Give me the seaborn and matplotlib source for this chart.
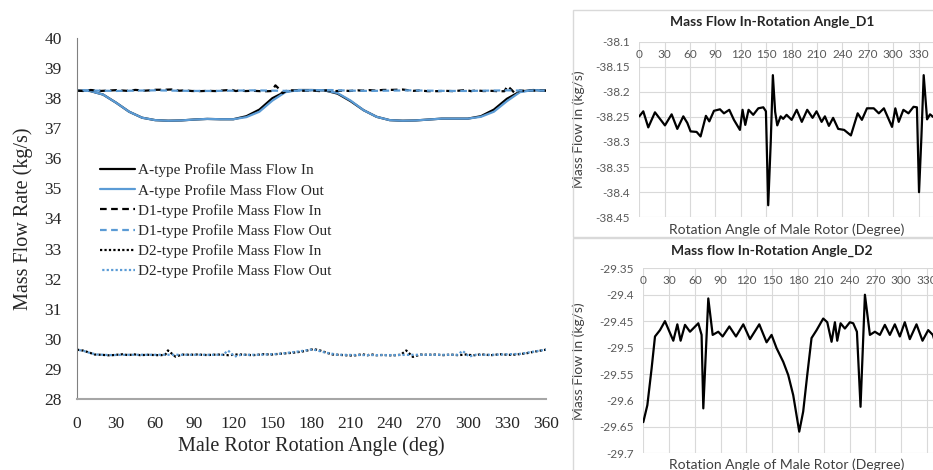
import numpy as np
import pandas as pd
import seaborn as sns
import matplotlib.pyplot as plt
from matplotlib.patches import Rectangle

# ---- main chart data (magnitudes, kg/s) ----
a_angle = list(range(0, 361, 10))
a_in = [38.25, 38.24, 38.12, 37.85, 37.55, 37.35, 37.27, 37.25, 37.26, 37.29,
        37.31, 37.30, 37.30, 37.40, 37.62, 38.00, 38.22, 38.27, 38.27, 38.26,
        38.15, 37.90, 37.60, 37.38, 37.27, 37.25, 37.26, 37.29, 37.32, 37.32,
        37.32, 37.40, 37.62, 37.98, 38.22, 38.27, 38.25]
a_out = [38.25, 38.24, 38.12, 37.85, 37.55, 37.35, 37.27, 37.25, 37.26, 37.29,
         37.31, 37.30, 37.30, 37.37, 37.55, 37.92, 38.20, 38.27, 38.27, 38.26,
         38.17, 37.92, 37.60, 37.38, 37.27, 37.25, 37.26, 37.29, 37.32, 37.32,
         37.32, 37.38, 37.55, 37.90, 38.20, 38.27, 38.25]

d1_out_angle = list(range(0, 361, 15))
d1_out = [38.27, 38.25, 38.24, 38.25, 38.26, 38.25, 38.24, 38.24, 38.25, 38.26,
          38.25, 38.24, 38.26, 38.27, 38.25, 38.24, 38.25, 38.26, 38.25, 38.24,
          38.24, 38.25, 38.26, 38.25, 38.25]

d2_out_angle = [0, 5, 10, 15, 25, 40, 55, 70, 85, 100, 112, 116, 121, 126, 140,
                155, 170, 181, 190, 200, 220, 240, 260, 280, 292, 296, 301, 306,
                320, 340, 350, 360]
d2_out = [29.64, 29.60, 29.53, 29.48, 29.46, 29.47, 29.47, 29.47, 29.47, 29.47,
          29.47, 29.61, 29.41, 29.47, 29.47, 29.50, 29.58, 29.65, 29.55, 29.47,
          29.46, 29.46, 29.47, 29.47, 29.47, 29.60, 29.41, 29.47, 29.47, 29.50,
          29.57, 29.64]

# ---- right panels: mass flow in (signed) ----
d1_angle = [0, 4.7, 10.6, 18.5, 30.3, 38.2, 44.9, 52, 56.7, 60.6, 67.7, 72.4,
            78.7, 82.7, 88.2, 95.3, 100, 106.3, 111.8, 118.9, 122, 125.2, 129.1,
            134.6, 140.6, 146.5, 149.6, 152.3, 155.3, 157.8, 160.5, 163, 167, 170,
            174, 180, 186, 192, 198.4, 204.7, 209.4, 215.4, 219.3, 224, 229, 235,
            242, 250, 258, 263, 269, 277, 283, 289, 298.6, 302.5, 306.5, 312, 318,
            324, 328, 330.5, 333.3, 336, 340, 343.5, 347, 353, 360]
d1_flow = [-38.249, -38.239, -38.271, -38.241, -38.267, -38.245, -38.274, -38.249,
           -38.262, -38.279, -38.280, -38.289, -38.248, -38.259, -38.238, -38.235,
           -38.243, -38.236, -38.256, -38.276, -38.236, -38.266, -38.236, -38.246,
           -38.233, -38.231, -38.239, -38.426, -38.300, -38.167, -38.240, -38.267,
           -38.249, -38.254, -38.246, -38.256, -38.236, -38.260, -38.236, -38.252,
           -38.239, -38.260, -38.249, -38.268, -38.252, -38.274, -38.276, -38.287,
           -38.243, -38.256, -38.233, -38.233, -38.243, -38.233, -38.270, -38.233,
           -38.260, -38.236, -38.243, -38.230, -38.231, -38.400, -38.290, -38.167,
           -38.255, -38.245, -38.250, -38.252, -38.250]

d2_angle = [0, 4.7, 9.7, 13.6, 19.4, 25.2, 34.9, 39.6, 43.4, 48.5, 54.3, 64, 67.8,
            69.8, 75.6, 80.7, 87.2, 92.3, 100.1, 107.8, 116.3, 124.1, 134.9, 143.4,
            149.2, 155, 162.8, 168.6, 174.4, 181.4, 186, 190.7, 195.7, 201.6, 209.3,
            214, 219, 222.9, 225.6, 229.5, 234.5, 240.3, 244.2, 248.5, 252.7, 257.8,
            263.6, 269.4, 275.2, 281, 286.8, 292.6, 298.4, 304.2, 310, 317.8, 324.8,
            331.4, 336.8, 345, 352, 360]
d2_flow = [-29.641, -29.609, -29.539, -29.479, -29.467, -29.450, -29.487, -29.456,
           -29.487, -29.457, -29.470, -29.454, -29.476, -29.615, -29.407, -29.476,
           -29.470, -29.479, -29.460, -29.479, -29.456, -29.484, -29.456, -29.490,
           -29.476, -29.501, -29.527, -29.552, -29.590, -29.659, -29.621, -29.552,
           -29.482, -29.467, -29.445, -29.452, -29.489, -29.452, -29.487, -29.454,
           -29.464, -29.452, -29.454, -29.470, -29.612, -29.400, -29.476, -29.470,
           -29.476, -29.457, -29.476, -29.456, -29.479, -29.452, -29.484, -29.456,
           -29.487, -29.467, -29.476, -29.520, -29.580, -29.640]

d1_yticks = [-38.1, -38.15, -38.2, -38.25, -38.3, -38.35, -38.4, -38.45]
d2_yticks = [-29.35, -29.4, -29.45, -29.5, -29.55, -29.6, -29.65, -29.7]

sns.set_style('white')
BLUE = '#5b9bd5'
SERIF = 'Liberation Serif'
SANS = 'Lato'

W, H = 933, 470
fig = plt.figure(figsize=(W / 100, H / 100), dpi=100)

# ---------------- main chart ----------------
ax = fig.add_axes([77 / W, 1 - 399 / H, (546 - 77) / W, (399 - 38) / H])
lw = 1.6
sns.lineplot(x=a_angle, y=a_in, ax=ax, color='black', lw=lw,
             label='A-type Profile Mass Flow In')
sns.lineplot(x=a_angle, y=a_out, ax=ax, color=BLUE, lw=lw,
             label='A-type Profile Mass Flow Out')
sns.lineplot(x=d1_angle, y=[-v for v in d1_flow], ax=ax, color='black', lw=lw,
             linestyle=(0, (3, 2)), label='D1-type Profile Mass Flow In')
sns.lineplot(x=d1_out_angle, y=d1_out, ax=ax, color=BLUE, lw=lw,
             linestyle=(0, (3, 2)), label='D1-type Profile Mass Flow Out')
sns.lineplot(x=d2_angle, y=[-v for v in d2_flow], ax=ax, color='black', lw=lw,
             linestyle=(0, (1, 1)), label='D2-type Profile Mass Flow In')
sns.lineplot(x=d2_out_angle, y=d2_out, ax=ax, color=BLUE, lw=lw,
             linestyle=(1, (1, 1)), label='D2-type Profile Mass Flow Out')
# offset the blue dashes so both dashed series stay visible on the plot
ax.get_lines()[3].set_linestyle((2.5, (3, 2)))

ax.set_xticks(range(0, 361, 30))
ax.set_yticks(range(28, 41))
ax.set_xlim(0, 360)
ax.set_ylim(28, 40)
for s in ['top', 'right']:
    ax.spines[s].set_visible(False)
ax.spines['left'].set_color('#808080')
ax.spines['bottom'].set_color('#a6a6a6')
ax.spines['bottom'].set_linewidth(1.5)
ax.tick_params(length=0)
ax.tick_params(axis='y', pad=11)
ax.tick_params(axis='x', pad=12)
for t in ax.get_xticklabels() + ax.get_yticklabels():
    t.set_fontfamily(SERIF)
    t.set_fontsize(12.5)
ax.set_xlabel('Male Rotor Rotation Angle (deg)', family=SERIF, fontsize=14.5, labelpad=3)
ax.set_ylabel('Mass Flow Rate (kg/s)', family=SERIF, fontsize=14.5, labelpad=8)
leg = ax.legend(loc='upper left', bbox_to_anchor=(0.049, 0.652), frameon=False,
                prop={'family': SERIF, 'size': 11}, handlelength=2.3,
                handletextpad=0.2, labelspacing=0.42, borderpad=0, borderaxespad=0)
leg.get_lines()[3].set_linestyle((0, (3, 2)))

# ---------------- right panels ----------------
fig.add_artist(Rectangle((573 / W, 1 - 237 / H), 1, (237 - 10) / H,
                         transform=fig.transFigure, fill=False,
                         edgecolor='#d9d9d9', lw=1))
fig.add_artist(Rectangle((573 / W, -0.1), 1, 0.1 + (470 - 238) / H,
                         transform=fig.transFigure, fill=False,
                         edgecolor='#d9d9d9', lw=1))


def panel(rect, ang, flow, yticks, xmax, title, title_y, xlabel_y):
    p = fig.add_axes(rect)
    sns.lineplot(x=ang, y=flow, ax=p, color='black', lw=1.6)
    p.set_xticks(range(0, 361, 30))
    p.set_yticks(yticks)
    p.set_yticklabels([f'{v:g}' for v in yticks])
    p.set_xlim(0, xmax)
    p.set_ylim(yticks[-1], yticks[0])
    p.grid(True, color='#d9d9d9', lw=0.8)
    for s in p.spines.values():
        s.set_visible(False)
    p.xaxis.set_ticks_position('top')
    p.tick_params(axis='x', labeltop=True, labelbottom=False, length=0, pad=-13)
    p.tick_params(axis='y', length=0, pad=7)
    for t in p.get_xticklabels() + p.get_yticklabels():
        t.set_fontfamily(SANS)
        t.set_fontsize(8.5)
        t.set_color('#595959')
    p.set_xlabel('')
    p.set_ylabel('Mass Flow In (kg/s)', family=SANS, fontsize=10, color='#404040')
    p.yaxis.set_label_coords(-(rect[0] * W - 585) / (rect[2] * W), 0.5)
    fig.text(787 / W, 1 - xlabel_y / H, 'Rotation Angle of Male Rotor (Degree)',
             family=SANS, fontsize=10, color='#404040', ha='center', va='center')
    fig.text(772 / W, 1 - title_y / H, title, family=SANS, fontsize=10,
             fontweight='bold', color='#262626', ha='center', va='center')
    return p


panel([639.3 / W, 1 - 217.3 / H, 1 - 639.3 / W, (217.3 - 41.5) / H],
      d1_angle, d1_flow, d1_yticks, 347, 'Mass Flow In-Rotation Angle_D1', 22, 230)
panel([643.3 / W, 1 - 453.3 / H, 1 - 643.3 / W, (453.3 - 268.3) / H],
      d2_angle, d2_flow, d2_yticks, 337, 'Mass flow In-Rotation Angle_D2', 251, 465)

fig.savefig('out.png', dpi=100)
